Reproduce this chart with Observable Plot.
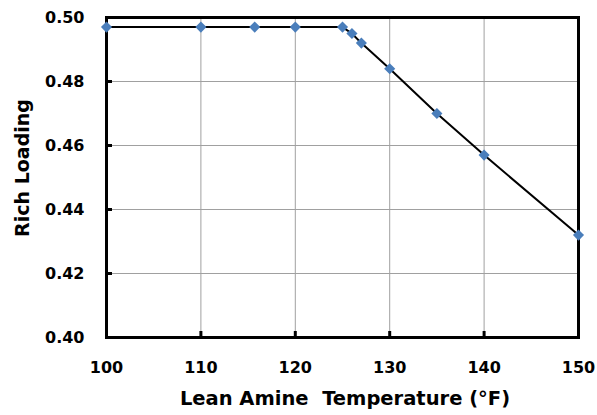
<!DOCTYPE html>
<html><head><meta charset="utf-8">
<script src="https://cdn.jsdelivr.net/npm/d3@7"></script>
<script src="https://cdn.jsdelivr.net/npm/@observablehq/plot@0.6"></script>
<style>body{margin:0;background:#fff;} svg{display:block;}</style>
</head><body><div id="chart"></div>
<script>
const temperature = [100, 110, 115.7, 120, 125, 126, 127, 130, 135, 140, 150];
const richLoading = [0.497, 0.497, 0.497, 0.497, 0.497, 0.495, 0.492, 0.484, 0.470, 0.457, 0.432];
const xTicks = [100, 110, 120, 130, 140, 150];
const yTicks = [0.40, 0.42, 0.44, 0.46, 0.48, 0.50];

const data = temperature.map((t, i) => ({t, v: richLoading[i]}));
const font = "'DejaVu Sans', sans-serif";

const chart = Plot.plot({
  width: 597, height: 415,
  marginLeft: 106, marginRight: 19, marginTop: 17, marginBottom: 78,
  style: {fontFamily: font, fontWeight: "bold", fontSize: "16px", color: "#000", background: "#fff"},
  x: {domain: [100, 150]},
  y: {domain: [0.40, 0.50]},
  marks: [
    Plot.gridX(xTicks, {stroke: "#a0a0a0", strokeOpacity: 1, strokeWidth: 1}),
    Plot.gridY(yTicks, {stroke: "#a0a0a0", strokeOpacity: 1, strokeWidth: 1}),
    Plot.axisX(xTicks, {anchor: "bottom", tickSize: -6, tickPadding: 30, strokeWidth: 3, tickFormat: d3.format("d"), fontSize: 16, label: null}),
    Plot.axisY(yTicks, {anchor: "left", tickSize: -6, tickPadding: 28, strokeWidth: 3, tickFormat: d3.format(".2f"), fontSize: 16, label: null}),
    Plot.frame({stroke: "#000", strokeWidth: 3}),
    Plot.line(data, {x: "t", y: "v", stroke: "#000", strokeWidth: 2}),
    Plot.dot(data, {x: "t", y: "v", symbol: "diamond2", r: 5, fill: "#4A7EBB", stroke: "none"}),
    Plot.text(["Lean Amine  Temperature (°F)"], {frameAnchor: "bottom", dx: 2.5, dy: 67, fontSize: 19.5, fontWeight: "bold", text: d => d}),
    Plot.text(["Rich Loading"], {frameAnchor: "left", textAnchor: "middle", dx: -84, dy: -9.5, rotate: -90, fontSize: 19, fontWeight: "bold", text: d => d})
  ]
});
document.getElementById("chart").appendChild(chart);
</script></body></html>
